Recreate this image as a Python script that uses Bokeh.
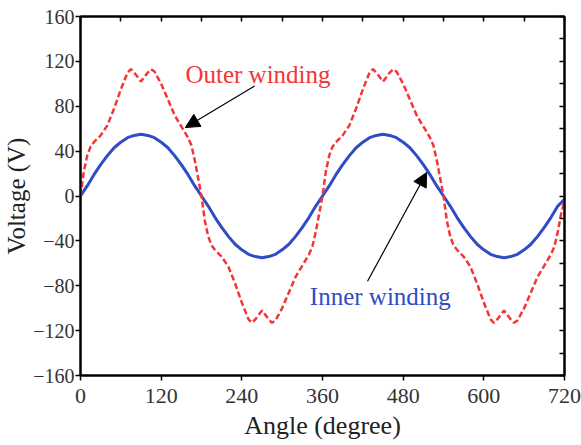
from bokeh.plotting import figure
from bokeh.models import (LinearAxis, Range1d, SingleIntervalTicker, Arrow, NormalHead, Label,
                          CustomLabelingPolicy)
from bokeh.embed import file_html
from bokeh.resources import INLINE

# ---- data ----
outer_angle = [0, 5, 10, 15, 20, 30, 40, 50, 60, 70, 75, 80, 90, 100, 105, 110, 120, 130, 140, 150, 160, 165, 170, 175, 180,
               185, 190, 195, 200, 210, 220, 230, 240, 250, 255, 260, 270, 280, 285, 290, 300, 310, 320, 330, 340, 345, 350, 355, 360,
               365, 370, 375, 380, 390, 400, 410, 420, 430, 435, 440, 450, 460, 465, 470, 480, 490, 500, 510, 520, 525, 530, 535, 540,
               545, 550, 555, 560, 570, 580, 590, 600, 610, 615, 620, 630, 640, 645, 650, 660, 670, 680, 690, 700, 705, 710, 715, 720]
outer_volt = [0, 22, 36, 44, 48, 54, 63, 78, 95, 110, 113, 110, 102, 110, 113, 111, 100, 86, 72, 62, 52, 45, 32, 16, 0,
              -22, -36, -44, -48, -54, -63, -78, -95, -110, -113, -110, -102, -110, -113, -111, -100, -86, -72, -62, -52, -45, -32, -16, 0,
              22, 36, 44, 48, 54, 63, 78, 95, 110, 113, 110, 102, 110, 113, 111, 100, 86, 72, 62, 52, 45, 32, 16, 0,
              -22, -36, -44, -48, -54, -63, -78, -95, -110, -113, -110, -102, -110, -113, -111, -100, -86, -72, -62, -52, -45, -32, -16, -4]

inner_angle = [0, 10, 20, 30, 40, 50, 60, 70, 80, 90, 100, 110, 120, 130, 140, 150, 160, 170, 180,
               190, 200, 210, 220, 230, 240, 250, 260, 270, 280, 290, 300, 310, 320, 330, 340, 350, 360,
               370, 380, 390, 400, 410, 420, 430, 440, 450, 460, 470, 480, 490, 500, 510, 520, 530, 540,
               550, 560, 570, 580, 590, 600, 610, 620, 630, 640, 650, 660, 670, 680, 690, 700, 710, 720]
inner_volt = [0, 9, 19, 28, 36, 43, 48, 52, 54, 55, 54, 52, 48, 43, 36, 28, 19, 9, 0,
              -9, -19, -28, -36, -43, -48, -52, -54, -55, -54, -52, -48, -43, -36, -28, -19, -9, 0,
              9, 19, 28, 36, 43, 48, 52, 54, 55, 54, 52, 48, 43, 36, 28, 19, 9, 0,
              -9, -19, -28, -36, -43, -48, -52, -54, -55, -54, -52, -48, -43, -36, -28, -19, -9, -3]

x_ticks = [0, 120, 240, 360, 480, 600, 720]
y_ticks = [-160, -120, -80, -40, 0, 40, 80, 120, 160]

FONT = "Liberation Serif"
RED = "#f53535"
BLUE = "#2d4cc6"

p = figure(frame_width=484, frame_height=359, output_backend="svg", toolbar_location=None,
           x_range=Range1d(0, 720), y_range=Range1d(-160, 160),
           min_border_left=77, min_border_right=12, min_border_top=16, min_border_bottom=54)
p.grid.visible = False
p.background_fill_color = "white"
p.outline_line_color = "black"
p.outline_line_width = 2

# main axes
for ax in (p.xaxis[0], p.yaxis[0]):
    ax.axis_line_width = 2
    ax.axis_line_color = "black"
    ax.major_tick_line_width = 1.5
    ax.minor_tick_line_width = 1.5
    ax.major_tick_out = 5
    ax.major_tick_in = 0
    ax.minor_tick_out = 3
    ax.minor_tick_in = 0
    ax.major_label_text_font = FONT
    ax.major_label_text_color = "#333333"
    ax.axis_label_text_font = FONT
    ax.axis_label_text_font_style = "normal"
    ax.axis_label_text_color = "#222222"

p.xaxis[0].major_label_text_font_size = "22px"
p.yaxis[0].major_label_text_font_size = "20px"
p.xaxis[0].axis_label_text_font_size = "26px"
p.yaxis[0].axis_label_text_font_size = "25px"
p.xaxis[0].ticker = x_ticks
p.xaxis[0].ticker.num_minor_ticks = 2
p.yaxis[0].ticker = y_ticks
p.yaxis[0].ticker.num_minor_ticks = 2
p.xaxis[0].axis_label = "Angle (degree)"
p.yaxis[0].axis_label = "Voltage (V)"
p.xaxis[0].major_label_standoff = 8
p.yaxis[0].major_label_standoff = 1
p.xaxis[0].axis_label_standoff = 5
p.yaxis[0].axis_label_standoff = 0

# mirror axes (ticks inward, no labels)
hide_labels = CustomLabelingPolicy(code="""
try { for (let i = 0; i < indices.size; i++) { indices.unset(i) } } catch (e) {}
return indices
""")
top = LinearAxis(ticker=SingleIntervalTicker(interval=60, num_minor_ticks=0),
                 major_label_policy=hide_labels, major_label_text_font_size="10px",
                 major_tick_in=5, major_tick_out=0,
                 minor_tick_in=0, minor_tick_out=0, axis_line_width=2, major_tick_line_width=1.5)
right = LinearAxis(ticker=SingleIntervalTicker(interval=20, num_minor_ticks=0),
                   major_label_policy=hide_labels, major_label_text_font_size="10px",
                   major_tick_in=5, major_tick_out=0,
                   minor_tick_in=0, minor_tick_out=0, axis_line_width=2, major_tick_line_width=1.5)
p.add_layout(top, "above")
p.add_layout(right, "right")

# curves
p.line(inner_angle, inner_volt, line_color=BLUE, line_width=3)
p.line(outer_angle, outer_volt, line_color=RED, line_width=2.5, line_dash="6 3")

# annotations
p.add_layout(Arrow(x_start=259, y_start=98, x_end=156, y_end=61,
                   line_color="black", line_width=1.2,
                   end=NormalHead(size=14, fill_color="black", line_color="black")))
p.add_layout(Arrow(x_start=427, y_start=-76, x_end=515, y_end=21,
                   line_color="black", line_width=1.2,
                   end=NormalHead(size=14, fill_color="black", line_color="black")))
p.add_layout(Label(x=264, y=108, text="Outer winding", text_font=FONT, text_font_size="25px",
                   text_color=RED, text_align="center", text_baseline="alphabetic"))
p.add_layout(Label(x=446, y=-90, text="Inner winding", text_font=FONT, text_font_size="25px",
                   text_color=BLUE, text_align="center", text_baseline="alphabetic"))

open("out.html", "w").write(file_html(p, INLINE))
